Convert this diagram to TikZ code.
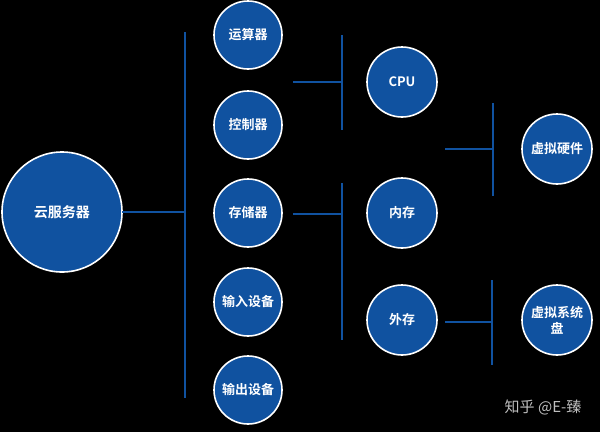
\documentclass[tikz,border=0pt]{standalone}
\usepackage{fontspec}
\setmainfont{Noto Sans CJK SC}
\newfontfamily\cjkb{Noto Sans CJK SC Bold}
\definecolor{cblue}{RGB}{16,82,160}
\begin{document}
\begin{tikzpicture}[x=1pt,y=-1pt,
  circ/.style={circle,draw=white,line width=1.6pt,fill=cblue,text=white,font=\cjkb\fontsize{13}{16}\selectfont,inner sep=0pt,align=center},
  sm/.style={circ,minimum size=68pt},
  ln/.style={draw=cblue,line width=1.5pt}]
\fill[black] (0,0) rectangle (600,432);
\useasboundingbox (0,0) rectangle (600,432);
\node[circ,minimum size=120pt,font=\cjkb\fontsize{14}{16}\selectfont] (yun) at (62,212) {云服务器};
\node[sm] (ys) at (248,35) {运算器};
\node[sm] (kz) at (248,125) {控制器};
\node[sm] (cc) at (248,213) {存储器};
\node[sm] (sr) at (248,302) {输入设备};
\node[sm] (sc) at (248,390) {输出设备};
\node[circ,minimum size=70pt] (cpu) at (402,82) {CPU};
\node[circ,minimum size=70pt] (nc) at (402,213) {内存};
\node[circ,minimum size=70pt] (wc) at (402,320) {外存};
\node[circ,minimum size=70pt] (yj) at (557,149) {虚拟硬件};
\node[circ,minimum size=70pt] (xp) at (557,320) {虚拟系统\\盘};
\coordinate (b1t) at (185,32); \coordinate (b1b) at (185,398); \coordinate (b1m) at (185,212);
\draw[ln] (b1t)--(b1b); \draw[ln] (122,212)--(b1m);
\draw[ln] (342,35)--(342,130); \draw[ln] (293,82)--(342,82);
\draw[ln] (342,183)--(342,340); \draw[ln] (293,214)--(342,214);
\draw[ln] (493,103)--(493,196); \draw[ln] (445,149)--(493,149);
\draw[ln] (492,280)--(492,365); \draw[ln] (445,322)--(492,322);
\node[text=white!75!black,font=\fontsize{15}{17}\selectfont] (wm) at (543,407) {知乎 @E-臻};
\end{tikzpicture}
\end{document}
